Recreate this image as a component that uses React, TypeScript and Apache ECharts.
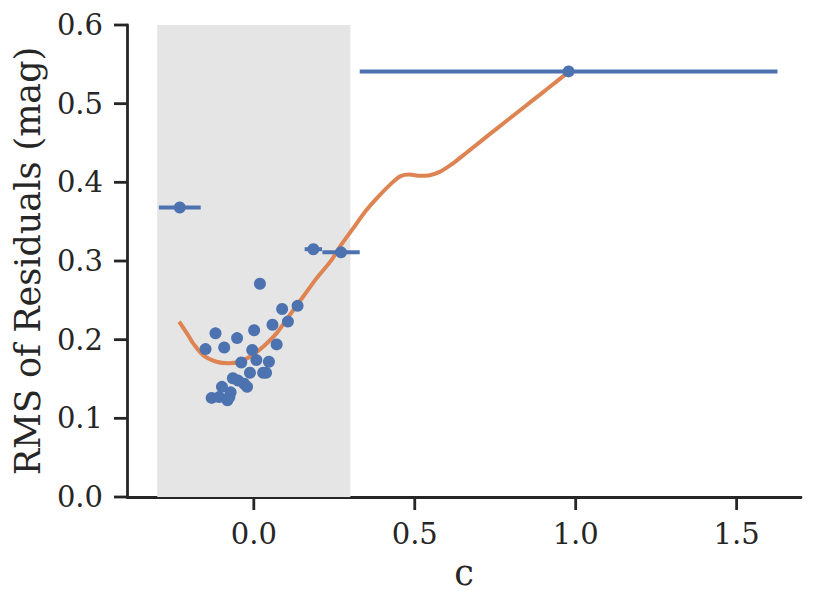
import React, { useEffect, useRef } from "react";
import * as echarts from "echarts";

const pointX = [0.019, 0.088, 0.106, 0.058, 0.001, -0.119, -0.052, -0.150, -0.092, -0.005, 0.071, -0.039, 0.008, 0.047, -0.012, 0.029, 0.038, -0.065, -0.049, -0.030, -0.021, -0.099, -0.072, -0.131, -0.108, -0.082, -0.076];
const pointY = [0.271, 0.239, 0.223, 0.219, 0.212, 0.208, 0.202, 0.188, 0.190, 0.187, 0.194, 0.171, 0.174, 0.172, 0.158, 0.158, 0.158, 0.151, 0.148, 0.144, 0.140, 0.140, 0.133, 0.126, 0.127, 0.123, 0.127];

const binX = [-0.230, 0.136, 0.185, 0.271, 0.978];
const binY = [0.368, 0.243, 0.315, 0.311, 0.541];
const binHalfWidth = [0.065, 0.012, 0.027, 0.058, 0.649];

const curveX = [-0.232, -0.2, -0.1885, -0.1575, -0.1158, -0.0798, -0.0435, -0.0124, 0.0289, 0.0705, 0.1118, 0.1531, 0.1947, 0.2413, 0.2671, 0.3084, 0.35, 0.3913, 0.4326, 0.4562, 0.4845, 0.5155, 0.5466, 0.5776, 0.5994, 0.619, 0.6606, 0.6811, 0.7329, 0.7848, 0.8363, 0.8882, 0.9401, 0.9761];
const curveY = [0.2228, 0.203, 0.1953, 0.1804, 0.1719, 0.1699, 0.1719, 0.1783, 0.191, 0.208, 0.2313, 0.2545, 0.2779, 0.3011, 0.318, 0.3414, 0.3647, 0.3837, 0.4006, 0.4080, 0.4098, 0.4084, 0.4091, 0.4133, 0.4187, 0.4241, 0.4376, 0.4443, 0.4612, 0.4779, 0.4945, 0.5112, 0.5280, 0.5396];

const shadeRange = [-0.3, 0.3];
const xTicks = [0, 0.5, 1.0, 1.5];
const X_MIN = -0.394;
const X_MAX = 1.70;

const FONT = "'DejaVu Serif', serif";
const INK = "#262626";
const BLUE = "#4c72b0";
const ORANGE = "#dd8452";
const TICK_LEN = 13;
const TICK_W = 2.8;

export default function App() {
  const ref = useRef<HTMLDivElement>(null);
  useEffect(() => {
    const chart = echarts.init(ref.current!, null, { renderer: "svg" });
    const points = pointX.map((x, i) => [x, pointY[i]]);
    const bins = binX.map((x, i) => [x - binHalfWidth[i], x + binHalfWidth[i], binY[i]]);
    const binPts = binX.map((x, i) => [x, binY[i]]);
    const curve = curveX.map((x, i) => [x, curveY[i]]);
    chart.setOption({
      animation: false,
      grid: { left: 127, right: 22, top: 25, bottom: 109, containLabel: false },
      xAxis: {
        type: "value",
        min: X_MIN,
        max: X_MAX,
        name: "c",
        nameLocation: "middle",
        nameGap: 58,
        nameTextStyle: { fontFamily: FONT, fontSize: 35, color: INK },
        axisLine: { show: true, onZero: false, lineStyle: { color: INK, width: TICK_W } },
        axisTick: { show: false },
        axisLabel: {
          show: true,
          fontFamily: FONT, fontSize: 29, color: INK, margin: 0,
          customValues: xTicks,
          formatter: (v: number) => `{t|}\n{n|${v.toFixed(1)}}`,
          rich: {
            t: { width: TICK_W, height: TICK_LEN, lineHeight: TICK_LEN, fontSize: 1, backgroundColor: INK },
            n: { fontFamily: FONT, fontSize: 29, color: INK, lineHeight: 48 },
          },
        },
        splitLine: { show: false },
      },
      yAxis: {
        type: "value",
        min: 0,
        max: 0.6,
        interval: 0.1,
        name: "RMS of Residuals (mag)",
        nameLocation: "middle",
        nameGap: 82,
        nameTextStyle: { fontFamily: FONT, fontSize: 35, color: INK },
        axisLine: { show: true, onZero: false, lineStyle: { color: INK, width: TICK_W } },
        axisTick: { show: false },
        axisLabel: {
          fontFamily: FONT, fontSize: 29, color: INK, margin: 0,
          formatter: (v: number) => `${v.toFixed(1)}{g|}{t|}`,
          rich: {
            g: { width: 11, height: 1, fontSize: 1 },
            t: { width: TICK_LEN, height: TICK_W, fontSize: 1, verticalAlign: "middle", backgroundColor: INK },
          },
        },
        splitLine: { show: false },
      },
      series: [
        {
          type: "scatter",
          data: [],
          z: 0,
          silent: true,
          markArea: {
            silent: true,
            itemStyle: { color: "#e5e5e5" },
            data: [[{ xAxis: shadeRange[0], yAxis: 0 }, { xAxis: shadeRange[1], yAxis: 0.6 }]],
          },
        },
        {
          type: "line",
          data: curve,
          smooth: 0.3,
          showSymbol: false,
          symbol: "none",
          z: 2,
          lineStyle: { color: ORANGE, width: 4 },
        },
        {
          type: "custom",
          z: 3,
          data: bins,
          renderItem: (params: any, api: any) => {
            const p1 = api.coord([api.value(0), api.value(2)]);
            const p2 = api.coord([api.value(1), api.value(2)]);
            return {
              type: "line",
              shape: { x1: p1[0], y1: p1[1], x2: p2[0], y2: p2[1] },
              style: { stroke: BLUE, lineWidth: 4 },
            };
          },
        },
        {
          type: "scatter",
          data: binPts,
          symbolSize: 12,
          z: 4,
          itemStyle: { color: BLUE, opacity: 1 },
        },
        {
          type: "scatter",
          data: points,
          symbolSize: 12,
          z: 4,
          itemStyle: { color: BLUE, opacity: 1 },
        },
      ],
    });
    return () => chart.dispose();
  }, []);
  return <div ref={ref} style={{ width: 823, height: 606, position: "absolute", left: 0, top: 0 }} />;
}
